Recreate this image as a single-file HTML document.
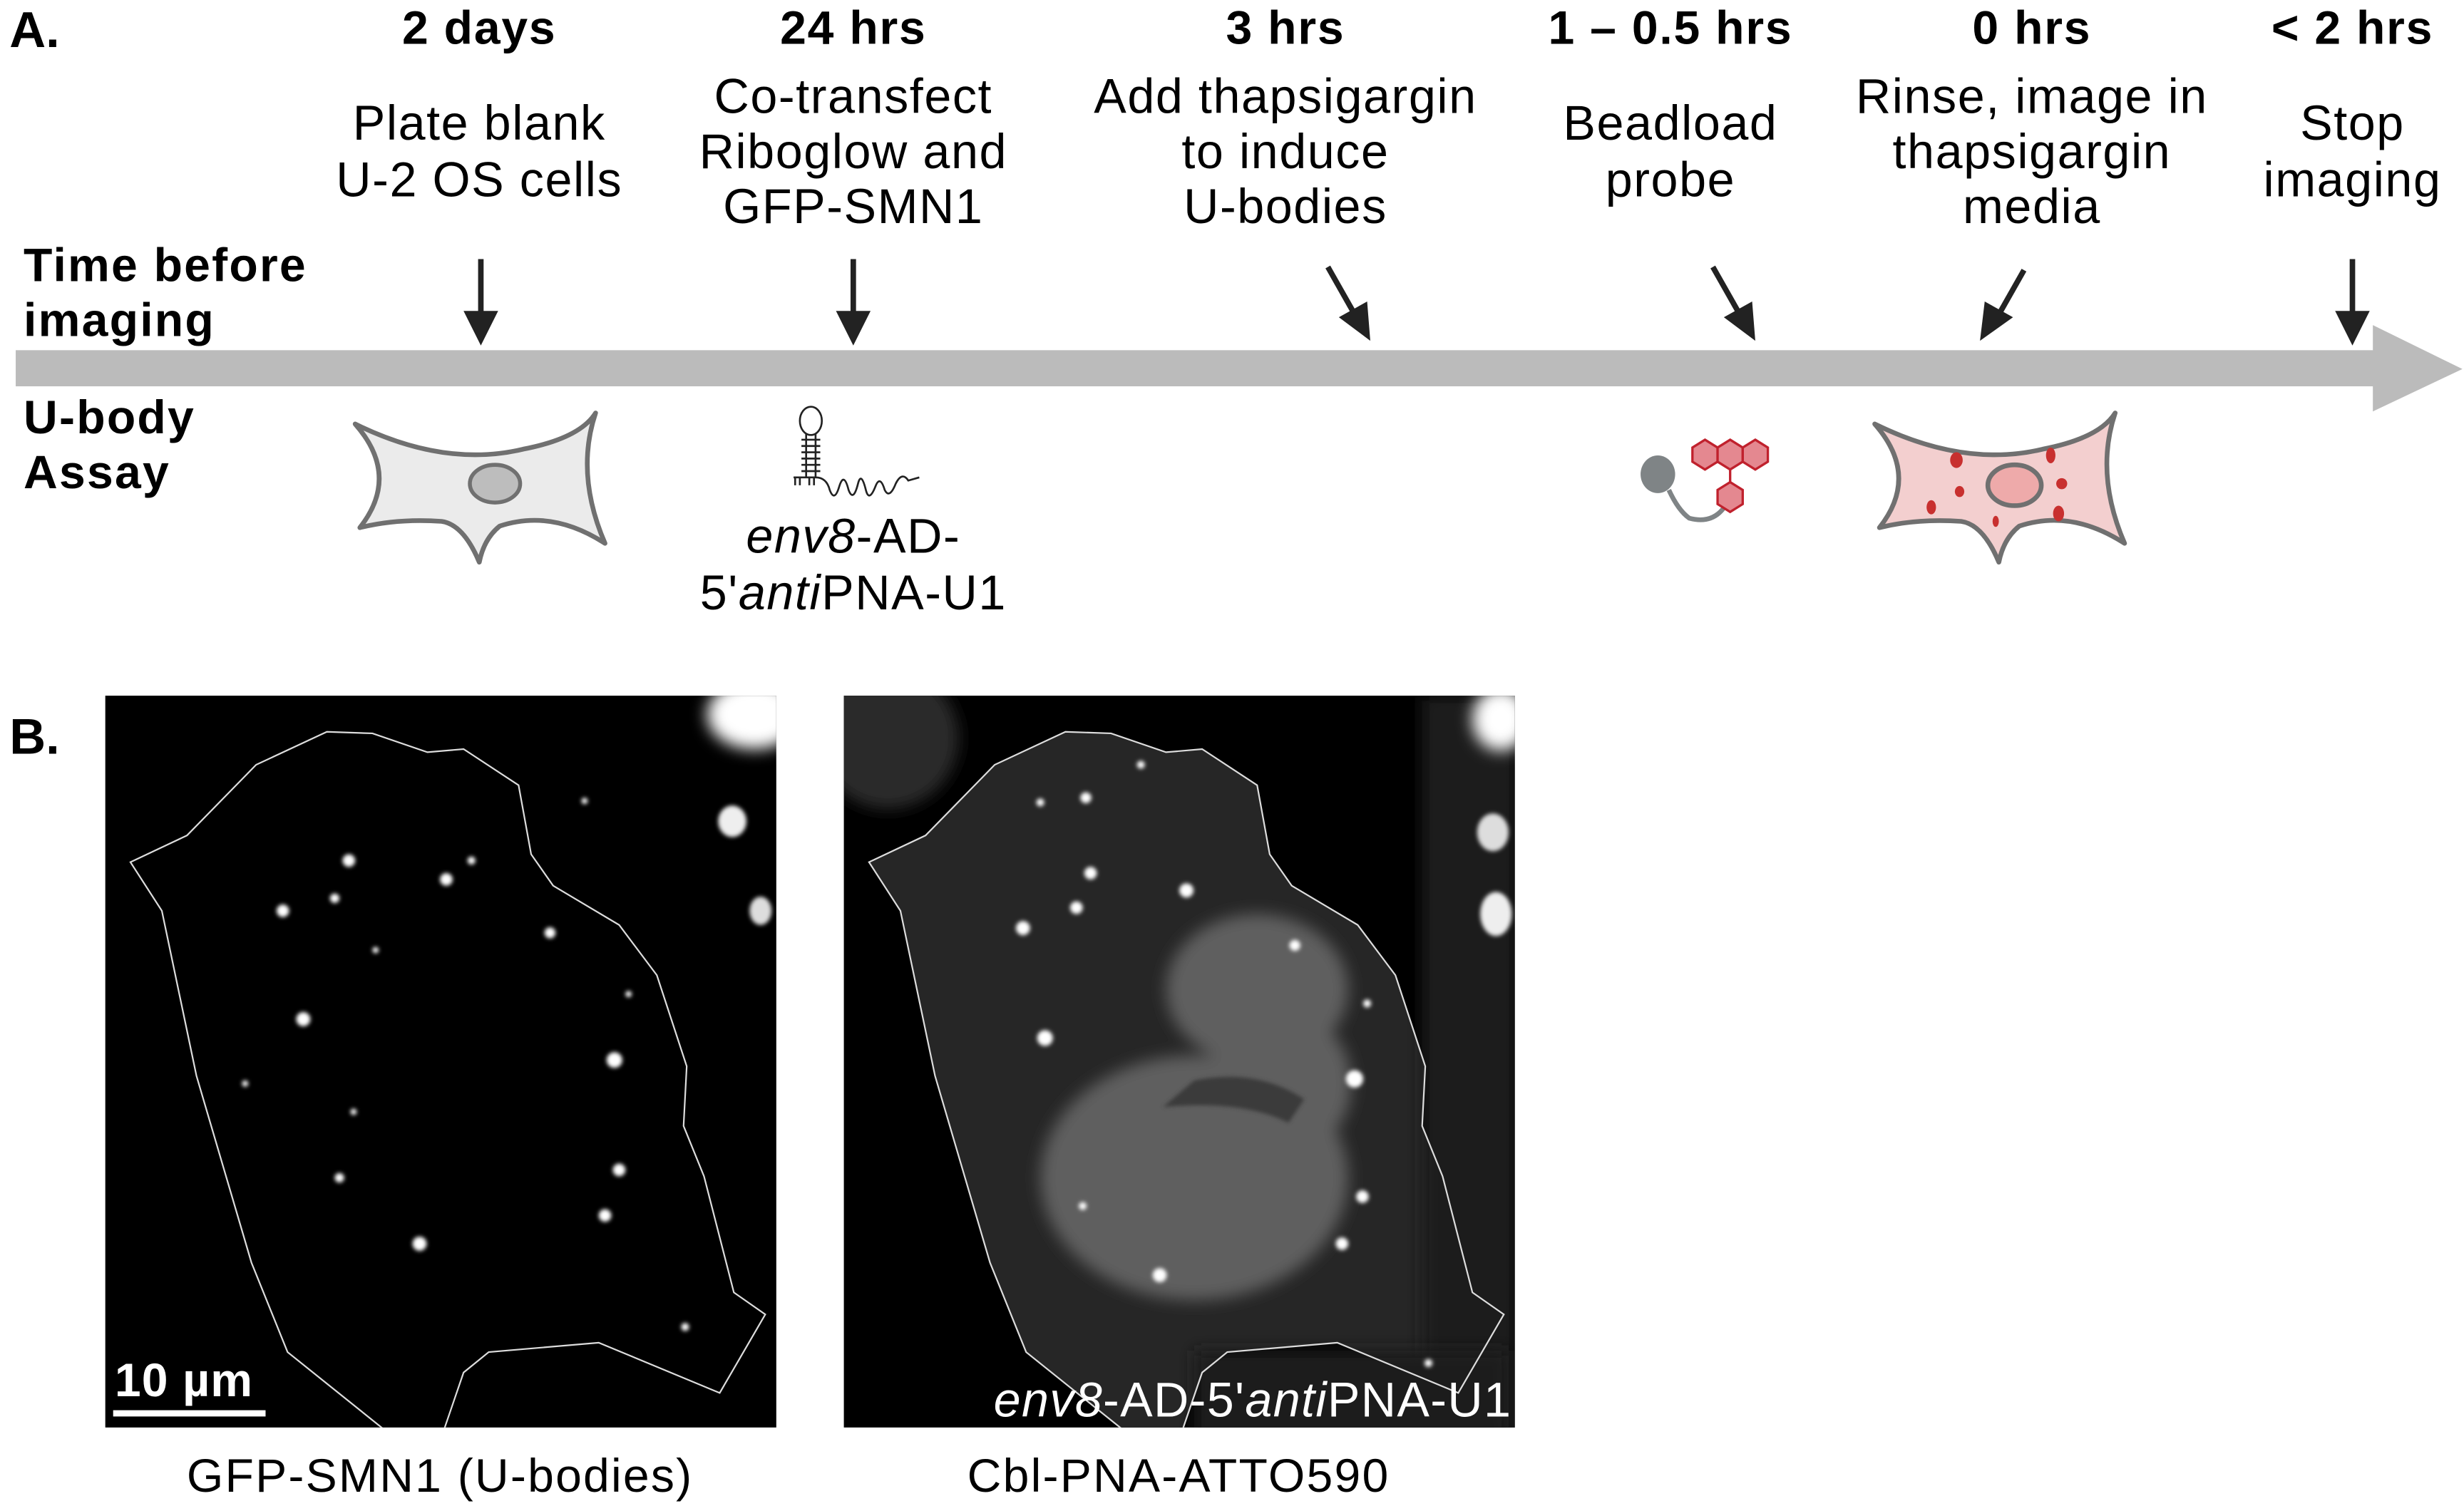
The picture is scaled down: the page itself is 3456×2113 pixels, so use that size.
<!DOCTYPE html>
<html><head><meta charset="utf-8"><style>
html,body{margin:0;padding:0;background:#fff;}
svg{display:block;}
text{font-family:"Liberation Sans",Arial,sans-serif;}
</style></head><body>
<svg width="3456" height="2113" viewBox="0 0 1568 959" preserveAspectRatio="none" xmlns="http://www.w3.org/2000/svg">
<defs>
<filter id="bl" x="-50%" y="-50%" width="200%" height="200%"><feGaussianBlur stdDeviation="1.3"/></filter>
<filter id="bl2" x="-50%" y="-50%" width="200%" height="200%"><feGaussianBlur stdDeviation="5"/></filter>
<clipPath id="c1"><rect x="67" y="443" width="427" height="466"/></clipPath>
<clipPath id="c2"><rect x="537" y="443" width="427" height="466"/></clipPath>
<g id="cell">
<path d="M1193,270 Q1250,298 1300,286 Q1336,279 1346,263 Q1333,302 1352,346 Q1318,324 1285,335 Q1275,343 1272,358 Q1262,334 1248,332 Q1220,330 1196,336 Q1222,303 1193,270 Z" stroke="#707070" stroke-width="3" stroke-linejoin="round"/>
</g>
</defs>

<text x="6" y="30" font-size="32" font-weight="bold">A.</text>
<g font-size="30" font-weight="bold" text-anchor="middle" letter-spacing="0.8">
<text x="305" y="28">2 days</text>
<text x="543" y="28">24 hrs</text>
<text x="818" y="28">3 hrs</text>
<text x="1063" y="28">1 – 0.5 hrs</text>
<text x="1293" y="28">0 hrs</text>
<text x="1497" y="28">&lt; 2 hrs</text>
</g>
<g font-size="31" text-anchor="middle" letter-spacing="0.7">
<text x="305" y="89">Plate blank</text><text x="305" y="125">U-2 OS cells</text>
<text x="543" y="72">Co-transfect</text><text x="543" y="107">Riboglow and</text><text x="543" y="142">GFP-SMN1</text>
<text x="818" y="72">Add thapsigargin</text><text x="818" y="107">to induce</text><text x="818" y="142">U-bodies</text>
<text x="1063" y="89">Beadload</text><text x="1063" y="125">probe</text>
<text x="1293" y="72">Rinse, image in</text><text x="1293" y="107">thapsigargin</text><text x="1293" y="142">media</text>
<text x="1497" y="89">Stop</text><text x="1497" y="125">imaging</text>
</g>
<g font-size="30" font-weight="bold" letter-spacing="1">
<text x="15" y="179">Time before</text><text x="15" y="214">imaging</text>
<text x="15" y="276">U-body</text><text x="15" y="311">Assay</text>
</g>
<rect x="10" y="223" width="1502" height="23" fill="#bbbbbb"/>
<polygon points="1510,207 1567,235 1510,262" fill="#bbbbbb"/>
<g stroke="#222" stroke-width="3.5" fill="#222">
<line x1="306" y1="165" x2="306" y2="202"/><polygon points="295,198 317,198 306,220" stroke="none"/>
<line x1="543" y1="165" x2="543" y2="202"/><polygon points="532,198 554,198 543,220" stroke="none"/>
<line x1="1497" y1="165" x2="1497" y2="202"/><polygon points="1486,198 1508,198 1497,220" stroke="none"/>
<line x1="845" y1="170" x2="862" y2="200"/><polygon points="852,202 870,192 872,217" stroke="none"/>
<line x1="1090" y1="170" x2="1107" y2="200"/><polygon points="1097,202 1115,192 1117,217" stroke="none"/>
<line x1="1288" y1="172" x2="1271" y2="202"/><polygon points="1263,192 1281,202 1260,217" stroke="none"/>
</g>
<g transform="translate(-967,0)" fill="#ebebeb"><use href="#cell"/></g>
<ellipse cx="315" cy="308" rx="16" ry="12" fill="#bdbdbd" stroke="#707070" stroke-width="2.5"/>
<g fill="#f3cfcf"><use href="#cell"/></g>
<ellipse cx="1282" cy="309" rx="17" ry="13" fill="#eeaaaa" stroke="#707070" stroke-width="3"/>
<g fill="#c8302f">
<ellipse cx="1245" cy="293" rx="4" ry="5"/><ellipse cx="1305" cy="290" rx="3" ry="5"/>
<ellipse cx="1247" cy="313" rx="3" ry="3.5"/><ellipse cx="1312" cy="308" rx="3.5" ry="3.5"/>
<ellipse cx="1229" cy="323" rx="3" ry="4.5"/><ellipse cx="1310" cy="327" rx="3.5" ry="5"/>
<ellipse cx="1270" cy="332" rx="2" ry="3.5"/>
</g>
<g stroke="#222" stroke-width="1.2" fill="none">
<ellipse cx="516" cy="268" rx="7" ry="9"/>
<line x1="513" y1="276" x2="513" y2="304"/><line x1="519" y1="276" x2="519" y2="304"/>
<path d="M510,280h12M510,284h12M510,288h12M510,292h12M510,296h12M510,300h12"/>
<path d="M505,304 L519,304 Q526,304 528,312 Q531,320 534,310 Q537,300 540,312 Q543,320 546,308 Q548,300 551,312 Q553,320 557,310 Q560,302 563,312 Q566,318 570,308 Q574,300 578,306 L585,304"/>
<path d="M506,304v5M509,304v5M515,304v5M518,304v5"/>
</g>
<text x="543" y="352" font-size="31" text-anchor="middle" letter-spacing="0.7"><tspan font-style="italic">env8</tspan>-AD-</text>
<text x="543" y="388" font-size="31" text-anchor="middle" letter-spacing="0.7">5'<tspan font-style="italic">anti</tspan>PNA-U1</text>
<ellipse cx="1055" cy="302" rx="11" ry="12" fill="#7f8486"/>
<path d="M1062,312 Q1068,325 1075,330 Q1090,334 1098,322" stroke="#7f8486" stroke-width="3" fill="none"/>
<g fill="#e48890" stroke="#c0212d" stroke-width="1.5">
<polygon points="1085,280 1093,285 1093,294 1085,299 1077,294 1077,285"/>
<polygon points="1101,280 1109,285 1109,294 1101,299 1093,294 1093,285"/>
<polygon points="1117,280 1125,285 1125,294 1117,299 1109,294 1109,285"/>
<line x1="1101" y1="299" x2="1101" y2="307"/>
<polygon points="1101,307 1109,312 1109,321 1101,326 1093,321 1093,312"/>
</g>

<text x="6" y="480" font-size="32" font-weight="bold">B.</text>
<rect x="67" y="443" width="427" height="466" fill="#000"/>
<rect x="537" y="443" width="427" height="466" fill="#000"/>
<g clip-path="url(#c1)">
<ellipse cx="480" cy="455" rx="30" ry="22" fill="#fff" filter="url(#bl2)"/>
<ellipse cx="466" cy="523" rx="9" ry="10" fill="#eee" filter="url(#bl)"/>
<ellipse cx="484" cy="580" rx="7" ry="9" fill="#ddd" filter="url(#bl)"/>
<g fill="#fff" filter="url(#bl)">
<circle cx="222" cy="548" r="4"/><circle cx="213" cy="572" r="3"/><circle cx="180" cy="580" r="4"/>
<circle cx="284" cy="560" r="4"/><circle cx="300" cy="548" r="2.5"/><circle cx="350" cy="594" r="3.5"/>
<circle cx="193" cy="649" r="4.5"/><circle cx="391" cy="675" r="5"/><circle cx="394" cy="745" r="4"/>
<circle cx="267" cy="792" r="4.5"/><circle cx="216" cy="750" r="3"/><circle cx="385" cy="774" r="4"/>
<circle cx="239" cy="605" r="2"/><circle cx="225" cy="708" r="2"/><circle cx="400" cy="633" r="2"/>
<circle cx="436" cy="845" r="2.5"/><circle cx="156" cy="690" r="2"/><circle cx="372" cy="510" r="2"/>
</g>
<path transform="translate(-470,0)" d="M553,549 L589,532 L633,487 L678,466 L707,467 L742,479 L765,477 L800,500 L808,544 L822,564 L864,589 L888,621 L907,679 L905,717 L918,749 L937,823 L957,837 L928,887 L851,855 L781,861 L765,874 L752,912 L729,922 L653,861 L630,804 L595,685 L573,580 Z" fill="none" stroke="#ddd" stroke-width="1"/>
</g>
<g clip-path="url(#c2)">
<ellipse cx="565" cy="470" rx="45" ry="45" fill="#2c2c2c" filter="url(#bl2)"/>
<path d="M553,549 L589,532 L633,487 L678,466 L707,467 L742,479 L765,477 L800,500 L808,544 L822,564 L864,589 L888,621 L907,679 L905,717 L918,749 L937,823 L957,837 L928,887 L851,855 L781,861 L765,874 L752,912 L729,922 L653,861 L630,804 L595,685 L573,580 Z" fill="#262626"/>
<rect x="905" y="443" width="60" height="470" fill="#1c1c1c" filter="url(#bl2)"/>
<rect x="760" y="860" width="200" height="60" fill="#1e1e1e" filter="url(#bl2)"/>
<g fill="#5e5e5e" filter="url(#bl2)">
<ellipse cx="800" cy="630" rx="58" ry="48"/>
<ellipse cx="760" cy="750" rx="98" ry="78"/>
<ellipse cx="830" cy="690" rx="30" ry="40"/>
</g>
<path d="M760,688 Q800,680 830,700 L820,715 Q790,700 740,705 Z" fill="#3a3a3a" filter="url(#bl)"/>
<ellipse cx="955" cy="458" rx="18" ry="20" fill="#fff" filter="url(#bl2)"/>
<ellipse cx="950" cy="530" rx="10" ry="12" fill="#ddd" filter="url(#bl)"/>
<ellipse cx="952" cy="582" rx="10" ry="14" fill="#eee" filter="url(#bl)"/>
<g fill="#fff" filter="url(#bl)">
<circle cx="691" cy="508" r="3.5"/><circle cx="662" cy="511" r="2.5"/><circle cx="726" cy="487" r="2.5"/>
<circle cx="694" cy="556" r="4"/><circle cx="755" cy="567" r="4.5"/><circle cx="685" cy="578" r="4"/>
<circle cx="651" cy="591" r="4.5"/><circle cx="824" cy="602" r="3.5"/><circle cx="665" cy="661" r="5"/>
<circle cx="862" cy="687" r="5.5"/><circle cx="867" cy="762" r="4"/><circle cx="854" cy="792" r="4"/>
<circle cx="738" cy="812" r="4.5"/><circle cx="870" cy="639" r="2.5"/><circle cx="689" cy="768" r="2.5"/>
<circle cx="909" cy="868" r="2.5"/>
</g>
<path d="M553,549 L589,532 L633,487 L678,466 L707,467 L742,479 L765,477 L800,500 L808,544 L822,564 L864,589 L888,621 L907,679 L905,717 L918,749 L937,823 L957,837 L928,887 L851,855 L781,861 L765,874 L752,912 L729,922 L653,861 L630,804 L595,685 L573,580 Z" fill="none" stroke="#ddd" stroke-width="1"/>
</g>
<text x="73" y="889" font-size="30" font-weight="bold" fill="#fff" letter-spacing="0.5">10 µm</text>
<rect x="72" y="898" width="97" height="4" fill="#fff"/>
<text x="962" y="902" font-size="31" fill="#fff" text-anchor="end" letter-spacing="0.6"><tspan font-style="italic">env8</tspan>-AD-5'<tspan font-style="italic">anti</tspan>PNA-U1</text>
<text x="280" y="950" font-size="30" text-anchor="middle" letter-spacing="1">GFP-SMN1 (U-bodies)</text>
<text x="750" y="950" font-size="30" text-anchor="middle" letter-spacing="1">Cbl-PNA-ATTO590</text>
</svg>
</body></html>
